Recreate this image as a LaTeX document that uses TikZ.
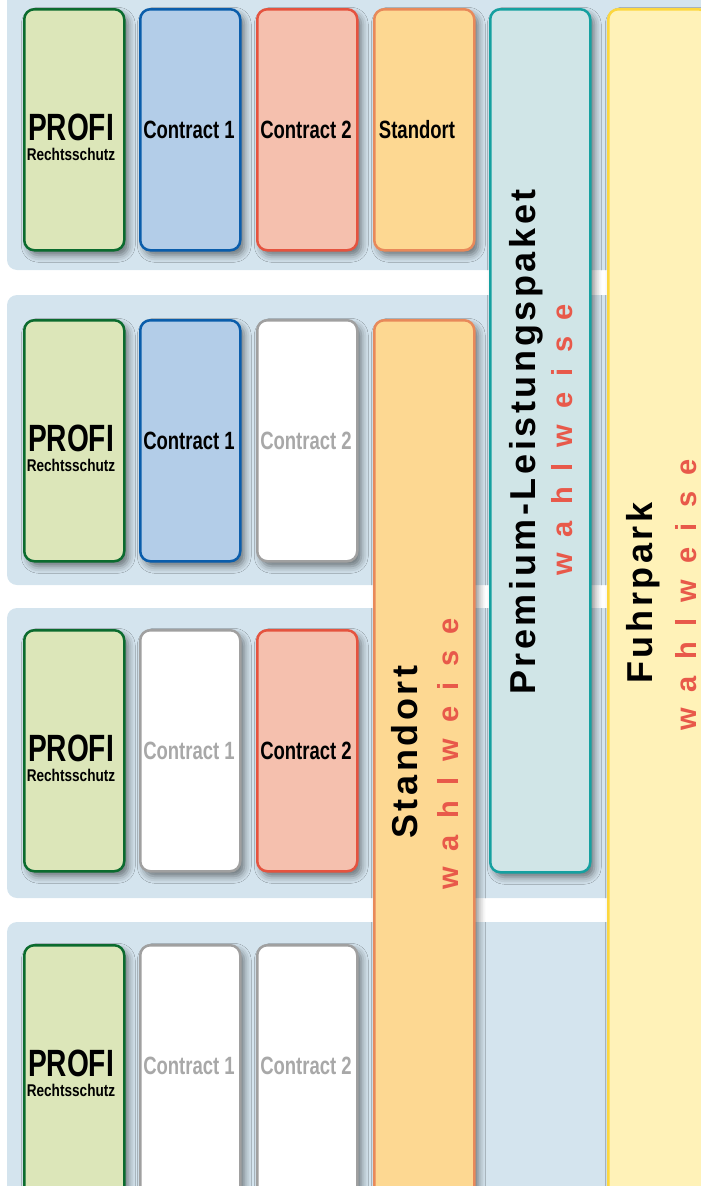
\documentclass[tikz,border=0pt]{standalone}
\usepackage{fontspec}
\setmainfont{Liberation Sans}
\newfontfamily\narrowfont[FakeStretch=0.8]{Liberation Sans}
\newfontfamily\condfont[FakeStretch=0.74]{Liberation Sans}
\newfontfamily\trackfont[LetterSpace=10]{Liberation Sans}
\newfontfamily\widetrackfont[LetterSpace=55]{Liberation Sans}
\usetikzlibrary{shadows,shadows.blur}

\definecolor{bandblue}{HTML}{D4E4EE}
\definecolor{profifill}{HTML}{DCE6B9}
\definecolor{profiline}{HTML}{0B6B2E}
\definecolor{conafill}{HTML}{B3CDE8}
\definecolor{conaline}{HTML}{0A5DAB}
\definecolor{conbfill}{HTML}{F5C0AE}
\definecolor{conbline}{HTML}{E5533F}
\definecolor{standfill}{HTML}{FDD892}
\definecolor{standline}{HTML}{E8895A}
\definecolor{premfill}{HTML}{D0E5E7}
\definecolor{premline}{HTML}{15A0A0}
\definecolor{fuhrfill}{HTML}{FFF2B8}
\definecolor{fuhrline}{HTML}{FCD73F}
\definecolor{offline}{HTML}{A0A0A0}
\definecolor{offgray}{HTML}{A8A8A8}
\definecolor{wahlred}{HTML}{E8594A}

\tikzset{
  band/.style={fill=bandblue,rounded corners=10pt},
  card/.style={draw,line width=2.5pt,rounded corners=10pt,inner sep=0pt,
    minimum width=100pt,minimum height=241pt,anchor=north west,
    blur shadow={shadow xshift=4pt,shadow yshift=-5pt,shadow blur radius=7pt,shadow opacity=50}},
  profi/.style={card,fill=profifill,draw=profiline},
  cona/.style={card,fill=conafill,draw=conaline},
  conb/.style={card,fill=conbfill,draw=conbline},
  conoff/.style={card,fill=white,draw=offline},
  stand/.style={card,fill=standfill,draw=standline},
  prem/.style={card,fill=premfill,draw=premline},
  fuhr/.style={card,fill=fuhrfill,draw=fuhrline},
  bigtxt/.style={inner sep=0pt,font=\condfont\bfseries\fontsize{38}{39}\selectfont},
  subtxt/.style={inner sep=0pt,font=\narrowfont\bfseries\fontsize{17}{18}\selectfont},
  cardtxt/.style={inner sep=0pt,font=\condfont\bfseries\fontsize{25}{26}\selectfont},
  offtxt/.style={cardtxt,text=offgray},
  vtitle/.style={inner sep=0pt,rotate=90,anchor=base,font=\trackfont\bfseries\fontsize{36}{38}\selectfont},
  vwahl/.style={inner sep=0pt,rotate=90,anchor=base,text=wahlred,font=\widetrackfont\bfseries\fontsize{29}{31}\selectfont}}

\begin{document}
\begin{tikzpicture}[x=1pt,y=-1pt]
    \useasboundingbox (0,0) rectangle (701,1186);
    \clip (0,0) rectangle (701,1186);

    % light blue rows
    \fill[band] (7,-30) rectangle (740,270);
    \fill[band] (7,295) rectangle (740,585);
    \fill[band] (7,608) rectangle (740,898);
    \fill[band] (7,922) rectangle (740,1240);

    \begin{scope}[shift={(0,8)}]
      \node[profi] (PROFI1) at (23,0) {};
      \node[cona] (CONA1) at (139,0) {};
      \node[conb] (CONB1) at (256,0) {};
      \node[stand] (STAND1) at (373,0) {};
      \node[bigtxt] (TPROFI1) at (71,119) {PROFI};
      \node[subtxt] (TRECHT1) at (71,146) {Rechtsschutz};
      \node[cardtxt] (TCONA1) at (189,122) {Contract 1};
      \node[cardtxt] (TCONB1) at (306,122) {Contract 2};
      \node[cardtxt] (TSTAND1) at (417,122) {Standort};
    \end{scope}

    \begin{scope}[shift={(0,319)}]
      \node[profi] (PROFI2) at (23,0) {};
      \node[cona] (CONA2) at (139,0) {};
      \node[conoff] (CONB2) at (256,0) {};
      \node[bigtxt] (TPROFI2) at (71,119) {PROFI};
      \node[subtxt] (TRECHT2) at (71,146) {Rechtsschutz};
      \node[cardtxt] (TCONA2) at (189,122) {Contract 1};
      \node[offtxt] (TCONB2) at (306,122) {Contract 2};
    \end{scope}

    \begin{scope}[shift={(0,629)}]
      \node[profi] (PROFI3) at (23,0) {};
      \node[conoff] (CONA3) at (139,0) {};
      \node[conb] (CONB3) at (256,0) {};
      \node[bigtxt] (TPROFI3) at (71,119) {PROFI};
      \node[subtxt] (TRECHT3) at (71,146) {Rechtsschutz};
      \node[offtxt] (TCONA3) at (189,122) {Contract 1};
      \node[cardtxt] (TCONB3) at (306,122) {Contract 2};
    \end{scope}

    \begin{scope}[shift={(0,944)}]
      \node[profi,minimum height=260pt] (PROFI4) at (23,0) {};
      \node[conoff,minimum height=260pt] (CONA4) at (139,0) {};
      \node[conoff,minimum height=260pt] (CONB4) at (256,0) {};
      \node[bigtxt] (TPROFI4) at (71,119) {PROFI};
      \node[subtxt] (TRECHT4) at (71,146) {Rechtsschutz};
      \node[offtxt] (TCONA4) at (189,122) {Contract 1};
      \node[offtxt] (TCONB4) at (306,122) {Contract 2};
    \end{scope}

    % long columns
    \node[stand,minimum height=900pt] (STANDORT) at (373,319) {};
    \node[prem,minimum height=863pt] (PREMIUM) at (489,8) {};
    \node[fuhr,minimum height=1240pt] (FUHRPARK) at (607,8) {};

    \node[vtitle] (TSTANDORT) at (417,752) {Standort};
    \node[vwahl] (WSTANDORT) at (458,754) {wahlweise};
    \node[vtitle] (TPREMIUM) at (535,442) {Premium-Leistungspaket};
    \node[vwahl] (WPREMIUM) at (572,440) {wahlweise};
    \node[vtitle] (TFUHRPARK) at (652,593) {Fuhrpark};
    \node[vwahl] (WFUHRPARK) at (696,595) {wahlweise};
\end{tikzpicture}
\end{document}
